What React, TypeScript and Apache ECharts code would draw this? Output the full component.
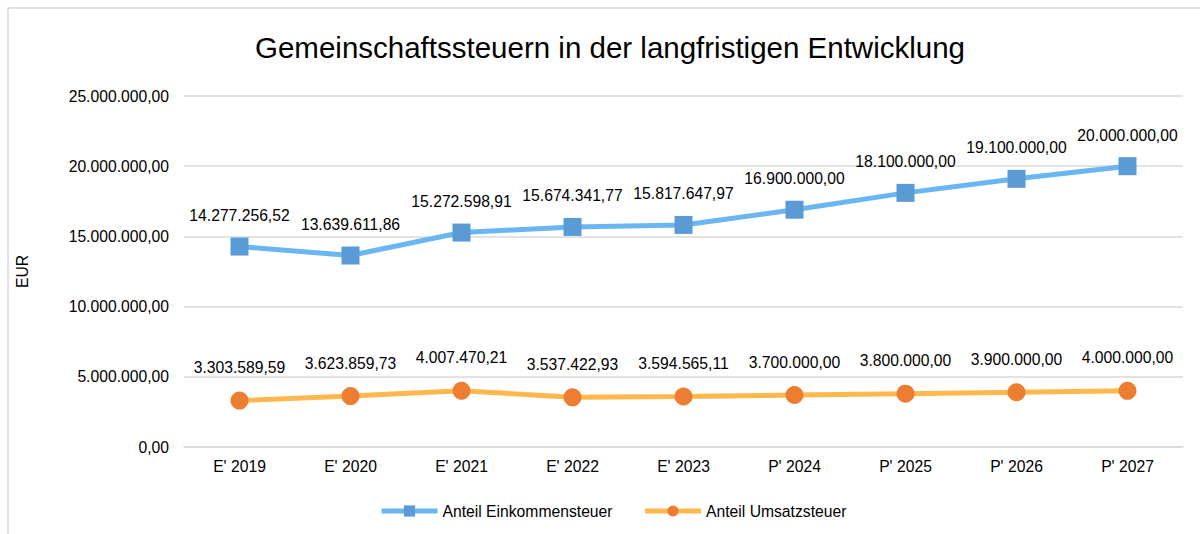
import React, { useEffect, useRef } from "react";
import * as echarts from "echarts";

const categories = ["E' 2019", "E' 2020", "E' 2021", "E' 2022", "E' 2023", "P' 2024", "P' 2025", "P' 2026", "P' 2027"];
const einkommensteuer = [14277256.52, 13639611.86, 15272598.91, 15674341.77, 15817647.97, 16900000, 18100000, 19100000, 20000000];
const umsatzsteuer = [3303589.59, 3623859.73, 4007470.21, 3537422.93, 3594565.11, 3700000, 3800000, 3900000, 4000000];

const fmt = (v: number) =>
  v.toLocaleString("de-DE", { minimumFractionDigits: 2, maximumFractionDigits: 2 });

const FONT = "'Liberation Sans', Arial, sans-serif";
const FS = 15.7;

export default function App() {
  const ref = useRef<HTMLDivElement>(null);
  useEffect(() => {
    if (!ref.current) return;
    const chart = echarts.init(ref.current, undefined, { renderer: "svg" });
    chart.setOption({
      animation: false,
      textStyle: { fontFamily: FONT },
      title: {
        text: "Gemeinschaftssteuern in der langfristigen Entwicklung",
        left: 605,
        textAlign: "center",
        top: 27,
        textStyle: { fontSize: 29.5, fontWeight: "normal", color: "#000", fontFamily: FONT },
      },
      graphic: [
        {
          type: "rect",
          shape: { x: 8, y: 8, width: 1200, height: 540 },
          style: { fill: "none", stroke: "#d9d9d9", lineWidth: 1.5 },
          silent: true,
        },
      ],
      legend: {
        top: 498,
        left: 374,
        orient: "horizontal",
        textStyle: { fontSize: FS, color: "#000", fontFamily: FONT },
        itemWidth: 56,
        itemHeight: 14,
        itemGap: 30,
        lineStyle: { width: 5 },
        data: ["Anteil Einkommensteuer", "Anteil Umsatzsteuer"],
      },
      grid: { left: 184, right: 17, top: 96, bottom: 87, containLabel: false },
      xAxis: {
        type: "category",
        data: categories,
        axisLine: { lineStyle: { color: "#d9d9d9", width: 1.5 } },
        axisTick: { show: false },
        axisLabel: { fontSize: FS, color: "#000", margin: 11, fontFamily: FONT },
      },
      yAxis: {
        type: "value",
        name: "EUR",
        nameLocation: "middle",
        nameGap: 154,
        nameRotate: 90,
        nameTextStyle: { fontSize: FS, color: "#000", fontFamily: FONT },
        min: 0,
        max: 25000000,
        interval: 5000000,
        axisLine: { show: false },
        axisTick: { show: false },
        splitLine: { lineStyle: { color: "#d9d9d9", width: 1.5 } },
        axisLabel: { fontSize: FS, color: "#000", margin: 15, formatter: (v: number) => fmt(v), fontFamily: FONT },
      },
      series: [
        {
          name: "Anteil Einkommensteuer",
          type: "line",
          data: einkommensteuer,
          symbol: "rect",
          symbolSize: 18,
          lineStyle: { color: "#6ab6f2", width: 5 },
          itemStyle: { color: "#5b9bd5" },
          label: {
            show: true,
            position: "top",
            distance: 14,
            fontSize: FS,
            color: "#000",
            fontFamily: FONT,
            formatter: (p: any) => fmt(p.value),
          },
        },
        {
          name: "Anteil Umsatzsteuer",
          type: "line",
          data: umsatzsteuer,
          symbol: "circle",
          symbolSize: 18,
          lineStyle: { color: "#ffb84d", width: 5 },
          itemStyle: { color: "#ed7d31" },
          label: {
            show: true,
            position: "top",
            distance: 16,
            fontSize: FS,
            color: "#000",
            fontFamily: FONT,
            formatter: (p: any) => fmt(p.value),
          },
        },
      ],
    });
    return () => chart.dispose();
  }, []);
  return <div ref={ref} style={{ width: 1200, height: 534, position: "absolute", left: 0, top: 0 }} />;
}
